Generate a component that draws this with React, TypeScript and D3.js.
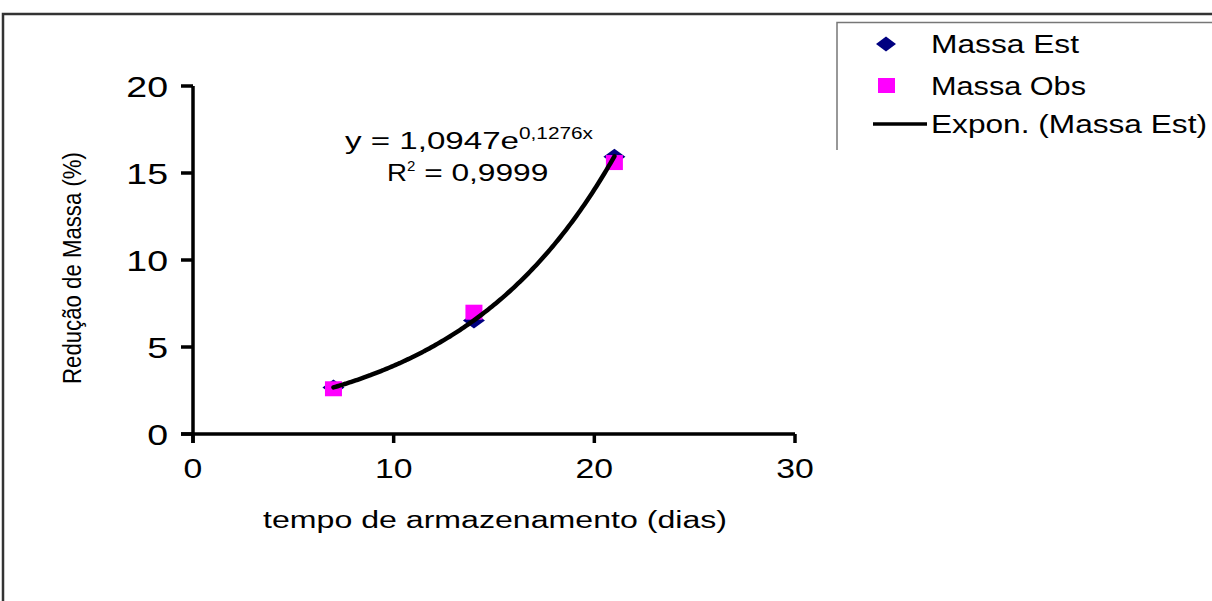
import React from "react";
import * as d3 from "d3";

const days = [7, 14, 21];
const massaEst = [2.67, 6.53, 15.94];
const massaObs = [2.6, 7.0, 15.6];
const xTicks = [0, 10, 20, 30];
const yTicks = [0, 5, 10, 15, 20];
const fitA = 1.0947;
const fitB = 0.1276;
const legendLabels = ["Massa Est", "Massa Obs", "Expon. (Massa Est)"];

const W = 1212;
const H = 601;
const FONT = "Arial, 'Liberation Sans', sans-serif";

export default function App() {
  const x = d3.scaleLinear().domain([0, 30]).range([193, 795]);
  const y = d3.scaleLinear().domain([0, 20]).range([434, 86]);

  const trendX = d3.range(7, 21.001, 0.1);
  const line = d3
    .line<number>()
    .x((d) => x(d))
    .y((d) => y(fitA * Math.exp(fitB * d)))
    .curve(d3.curveMonotoneX);

  const diamond = (cx: number, cy: number, w = 20, h = 16) =>
    `M${cx},${cy - h / 2}L${cx + w / 2},${cy}L${cx},${cy + h / 2}L${cx - w / 2},${cy}Z`;

  return (
    <svg width={W} height={H} style={{ position: "absolute", left: 0, top: 0, background: "#fff" }}>
      <rect x={0} y={0} width={W} height={H} fill="#fff" />
      {/* outer frame */}
      <path d={`M3,${H}V14H${W}`} fill="none" stroke="#333" strokeWidth={2.5} />

      {/* legend */}
      <path d={`M837,${150}V22.5H${W}`} fill="none" stroke="#777" strokeWidth={1.5} />
      <path d={diamond(886, 44, 20, 15)} fill="#000080" />
      <rect x={878} y={78} width={17} height={15} fill="#ff00ff" />
      <line x1={873} x2={927} y1={124} y2={124} stroke="#000" strokeWidth={3.5} />
      {legendLabels.map((t, i) => (
        <text
          key={t}
          x={931}
          y={[53, 95, 133][i]}
          fontFamily={FONT}
          fontSize={25}
          textLength={[148, 155, 276][i]}
          lengthAdjust="spacingAndGlyphs"
          fill="#000"
        >
          {t}
        </text>
      ))}

      {/* axes */}
      <line x1={x(0)} x2={x(0)} y1={y(20)} y2={y(0) + 9} stroke="#000" strokeWidth={3.5} />
      <line x1={x(0) - 12} x2={x(30)} y1={y(0)} y2={y(0)} stroke="#000" strokeWidth={3.5} />
      {yTicks.map((t) => (
        <g key={"y" + t}>
          <line x1={x(0) - 12} x2={x(0)} y1={y(t)} y2={y(t)} stroke="#000" strokeWidth={3.5} />
          <g transform={`translate(168,${y(t) + 11}) scale(1.25,1)`}>
            <text textAnchor="end" fontFamily={FONT} fontSize={30} fill="#000">
              {t}
            </text>
          </g>
        </g>
      ))}
      {xTicks.map((t) => (
        <g key={"x" + t}>
          <line x1={x(t)} x2={x(t)} y1={y(0)} y2={y(0) + 9} stroke="#000" strokeWidth={3.5} />
          <g transform={`translate(${x(t)},478) scale(1.25,1)`}>
            <text textAnchor="middle" fontFamily={FONT} fontSize={27} fill="#000">
              {t}
            </text>
          </g>
        </g>
      ))}

      {/* axis titles */}
      <text
        x={495}
        y={528}
        textAnchor="middle"
        fontFamily={FONT}
        fontSize={23}
        textLength={464}
        lengthAdjust="spacingAndGlyphs"
        fill="#000"
      >
        tempo de armazenamento (dias)
      </text>
      <text
        transform="translate(81,268) rotate(-90)"
        textAnchor="middle"
        fontFamily={FONT}
        fontSize={25}
        textLength={232}
        lengthAdjust="spacingAndGlyphs"
        fill="#000"
      >
        Redução de Massa (%)
      </text>

      {/* equation */}
      <text x={345} y={149} fontFamily={FONT} fontSize={24} fill="#000">
        <tspan textLength={174} lengthAdjust="spacingAndGlyphs">y = 1,0947e</tspan>
        <tspan dy={-10} fontSize={16} textLength={74} lengthAdjust="spacingAndGlyphs">0,1276x</tspan>
      </text>
      <text x={387} y={181} fontFamily={FONT} fontSize={24} fill="#000">
        <tspan textLength={20} lengthAdjust="spacingAndGlyphs">R</tspan>
        <tspan dy={-10} fontSize={15}>2</tspan>
        <tspan dy={10} textLength={133} lengthAdjust="spacingAndGlyphs"> = 0,9999</tspan>
      </text>

      {/* points */}
      {days.map((d, i) => (
        <path key={"e" + i} d={diamond(x(d), y(massaEst[i]), 22, 16)} fill="#000080" />
      ))}
      {days.map((d, i) => (
        <rect
          key={"o" + i}
          x={x(d) - 8.5}
          y={y(massaObs[i]) - 7.5}
          width={17}
          height={15}
          fill="#ff00ff"
        />
      ))}
      <path d={line(trendX) || ""} fill="none" stroke="#000" strokeWidth={4.5} strokeLinecap="round" />
    </svg>
  );
}
